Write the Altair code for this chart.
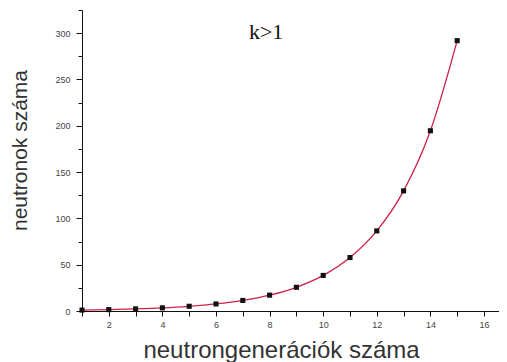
import altair as alt
import pandas as pd

# data
generations = list(range(1, 16))
neutrons = [1, 1.5, 2.3, 3.4, 5.1, 7.6, 11.4, 17.1, 25.6, 38.4, 57.7, 86.5, 129.7, 194.6, 291.9]
x_ticks = list(range(1, 17))
y_ticks = list(range(0, 326, 25))
annotation = "k>1"
x_title = "neutrongenerációk száma"
y_title = "neutronok száma"

df = pd.DataFrame({"gen": generations, "n": neutrons})

xscale = alt.Scale(domain=[1, 16.56], nice=False, zero=False)
yscale = alt.Scale(domain=[0, 325], nice=False)

xaxis = alt.Axis(
    values=x_ticks,
    tickCount=100,
    format="d",
    labelExpr="datum.value % 2 < 0.5 ? datum.label : ''",
    title=x_title,
    grid=False,
    tickSize=5,
    tickColor="#111",
    domainColor="#111",
    labelFont="Liberation Sans",
    labelFontSize=9,
    labelColor="#444",
    labelPadding=4,
    labelFlush=False,
    labelOverlap=False,
    titleFont="Liberation Sans",
    titleFontSize=24,
    titleFontWeight="normal",
    titleColor="#333",
    titleBaseline="alphabetic",
    titleAlign="center",
    titleX=199,
    titleY=46,
)

yaxis = alt.Axis(
    values=y_ticks,
    tickCount=100,
    format="d",
    labelExpr="datum.value % 50 == 0 ? datum.label : ''",
    title=y_title,
    grid=False,
    tickSize={"condition": {"test": "datum.value % 50 == 0", "value": 6}, "value": 4},
    tickColor="#111",
    domainColor="#111",
    labelFont="Liberation Sans",
    labelFontSize=9,
    labelColor="#444",
    labelPadding=6,
    labelFlush=False,
    labelOverlap=False,
    titleFont="Liberation Sans",
    titleFontSize=21,
    titleFontWeight="normal",
    titleColor="#333",
    titleAngle=270,
    titleBaseline="alphabetic",
    titleAlign="center",
    titleX=-56,
    titleY=140,
)

base = alt.Chart(df)

line = base.mark_line(color="#cc2244", strokeWidth=1.3, interpolate="monotone").encode(
    x=alt.X("gen:Q", scale=xscale, axis=xaxis),
    y=alt.Y("n:Q", scale=yscale, axis=yaxis),
)

points = base.mark_square(color="#111", size=26, opacity=1).encode(
    x=alt.X("gen:Q", scale=xscale),
    y=alt.Y("n:Q", scale=yscale),
)

label = alt.Chart(pd.DataFrame({"t": [annotation]})).mark_text(
    font="Liberation Serif", fontSize=22, color="#111", baseline="alphabetic", align="center"
).encode(
    x=alt.X(datum=7.87, scale=xscale),
    y=alt.Y(datum=294, scale=yscale),
    text="t:N",
)

chart = (
    alt.layer(line, points, label)
    .properties(
        width=417,
        height=301,
        autosize=alt.AutoSizeParams(type="none"),
        padding={"left": 74, "top": 2, "right": 0, "bottom": 52},
        background="white",
    )
    .configure_view(stroke=None)
)

chart.save("out.html", embed_options={"renderer": "svg", "actions": False})
